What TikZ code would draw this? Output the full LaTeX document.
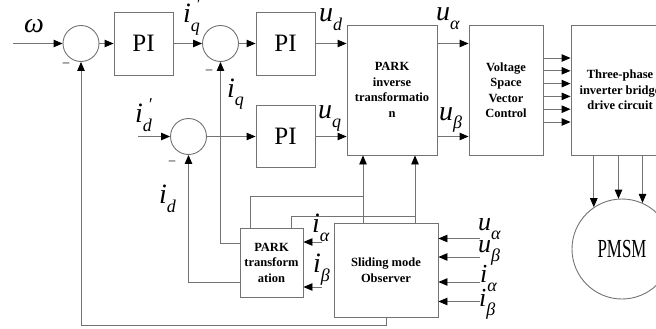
\documentclass[tikz,border=0pt]{standalone}
\usepackage{fontspec}
\setmainfont{Liberation Serif}
\newfontfamily\pmsmfont[FakeStretch=0.65]{Liberation Serif}
\usetikzlibrary{arrows.meta,calc}
\newcommand\sbs[1]{\raisebox{-9pt}{\fontsize{18}{18}\selectfont #1}}
\newcommand\prm{\kern-4pt\raisebox{12pt}{\fontsize{18}{18}\selectfont ′}}
\begin{document}
\begin{tikzpicture}[x=1pt,y=-1pt,
  line/.style={draw=black!55, line width=0.9pt},
  arr/.style={line, -{Triangle[length=9pt,width=7.5pt,color=black]}},
  blk/.style={draw=black!55, line width=0.9pt, rectangle, inner sep=0pt, align=center},
  sumc/.style={circle, draw=black!55, line width=0.9pt, minimum size=36pt, inner sep=0pt},
  boxtxt/.style={font=\fontsize{12.5}{15.5}\selectfont\bfseries},
  pitxt/.style={font=\fontsize{25}{25}\selectfont},
  lbl/.style={font=\fontsize{28}{28}\selectfont\itshape, inner sep=0pt, anchor=base west},
  slbl/.style={lbl, font=\fontsize{26}{26}\selectfont\itshape},
  minus/.style={font=\fontsize{13}{13}\selectfont, inner sep=0pt}
]
\useasboundingbox (0,0) rectangle (656,329);

% summing junctions
\node[sumc] (c1) at (81,43.5) {};
\node[sumc] (c2) at (220.5,43.5) {};
\node[sumc] (c3) at (188.5,136.5) {};

% PI blocks
\node[blk, pitxt, minimum width=59pt, minimum height=63pt] (pi1) at (143.5,43.5) {PI};
\node[blk, pitxt, minimum width=59pt, minimum height=63pt] (pi2) at (285.5,43.5) {PI};
\node[blk, pitxt, minimum width=59pt, minimum height=62pt] (pi3) at (285.5,136.5) {PI};

% main blocks
\node[blk, boxtxt, minimum width=90pt, minimum height=130pt] (piinv) at (392,90) {PARK\\inverse\\transformatio\\n};
\node[blk, boxtxt, minimum width=74pt, minimum height=130pt] (svc) at (506,90) {Voltage\\Space\\Vector\\Control};
\node[blk, boxtxt, minimum width=98pt, minimum height=130pt] (inv) at (620,90) {Three-phase\\inverter bridge\\drive circuit};
\node[circle, draw=black!55, line width=0.9pt, minimum size=100pt, inner sep=0pt,
      font=\pmsmfont\fontsize{26}{26}\selectfont] (pmsm) at (622,249) {PMSM};
\node[blk, boxtxt, minimum width=63pt, minimum height=69pt] (pt) at (271.5,262.5) {PARK\\transform\\ation};
\node[blk, boxtxt, minimum width=104pt, minimum height=94pt] (smo) at (386,270) {Sliding mode\\Observer};

% forward path
\coordinate (win) at (13,43.5);
\draw[arr] (win) -- (c1.west);
\draw[arr] (c1.east) -- (pi1.west);
\draw[arr] (pi1.east) -- (c2.west);
\draw[arr] (c2.east) -- (pi2.west);
\draw[arr] (pi2.east) -- (pi2.east -| piinv.west);
\coordinate (idin) at (138,136.5);
\draw[arr] (idin) -- (c3.west);
\draw[arr] (c3.east) -- (pi3.west);
\draw[arr] (pi3.east) -- (pi3.east -| piinv.west);
\draw[arr] (pi2.east -| piinv.east) -- (pi2.east -| svc.west);
\draw[arr] (pi3.east -| piinv.east) -- (pi3.east -| svc.west);
\foreach \y in {58,70.8,83.6,96.4,109.2,122}
  \draw[arr] (svc.east |- 0,\y) -- (inv.west |- 0,\y);
\foreach \a in {124,94.6,66.4}
  \draw[arr] (pmsm.\a |- inv.south) -- (pmsm.\a);

% feedback
\draw[arr] ([yshift=19.5pt]pt.west) -| (c2.south);
\draw[arr] ([yshift=-19.5pt]pt.west) -| (c3.south);
\draw[arr] (smo.south) -- ++(0,8) -| (c1.south);

% observer outputs
\coordinate (o1) at ([xshift=-23pt]smo.north);
\coordinate (o2) at ([xshift=29pt]smo.north);
\draw[arr] (o1) -- (o1 |- piinv.south);
\draw[arr] (o2) -- (o2 |- piinv.south);
\coordinate (b1) at (o1 |- 0,196);
\coordinate (b2) at (o2 |- 0,216);
\draw[line] (b1) -| ([xshift=11pt]pt.north west);
\draw[line] (b2) -| ([xshift=52pt]pt.north west);

% i_alpha, i_beta into PARK transformation
\coordinate (ia) at (322,242);
\coordinate (ib) at (322,287);
\draw[arr] (ia) -- (ia -| pt.east);
\draw[arr] (ib) -- (ib -| pt.east);

% observer inputs
\foreach \y/\n in {238.5/s1,257/s2,282/s3,301.5/s4}{
  \coordinate (\n) at (480,\y);
  \draw[arr] (\n) -- (\n -| smo.east);
}

% minus signs
\node[minus] (m1) at (66,65) {\textendash};
\node[minus] (m2) at (209,72) {\textendash};
\node[minus] (m3) at (172,163) {\textendash};

% labels
\node[lbl] (lw) at (24,33) {ω};
\node[lbl] (liq1) at (183,23) {i\sbs{q}\prm};
\node[lbl] (liq2) at (227,97) {i\sbs{q}};
\node[lbl] (lid1) at (135,122) {i\sbs{d}\prm};
\node[lbl] (lid2) at (159,203) {i\sbs{d}};
\node[lbl] (lud) at (319,22) {u\sbs{d}};
\node[lbl] (luq) at (318,118) {u\sbs{q}};
\node[lbl] (lua) at (436,21) {u\sbs{α}};
\node[lbl] (lub) at (439,120) {u\sbs{β}};
\node[lbl] (lia) at (312,232) {i\sbs{α}};
\node[lbl] (lib) at (313,272) {i\sbs{β}};
\node[slbl] (rua) at (478,230) {u\sbs{α}};
\node[slbl] (rub) at (478,252) {u\sbs{β}};
\node[slbl] (ria) at (480,282) {i\sbs{α}};
\node[slbl] (rib) at (479,306) {i\sbs{β}};
\end{tikzpicture}
\end{document}
